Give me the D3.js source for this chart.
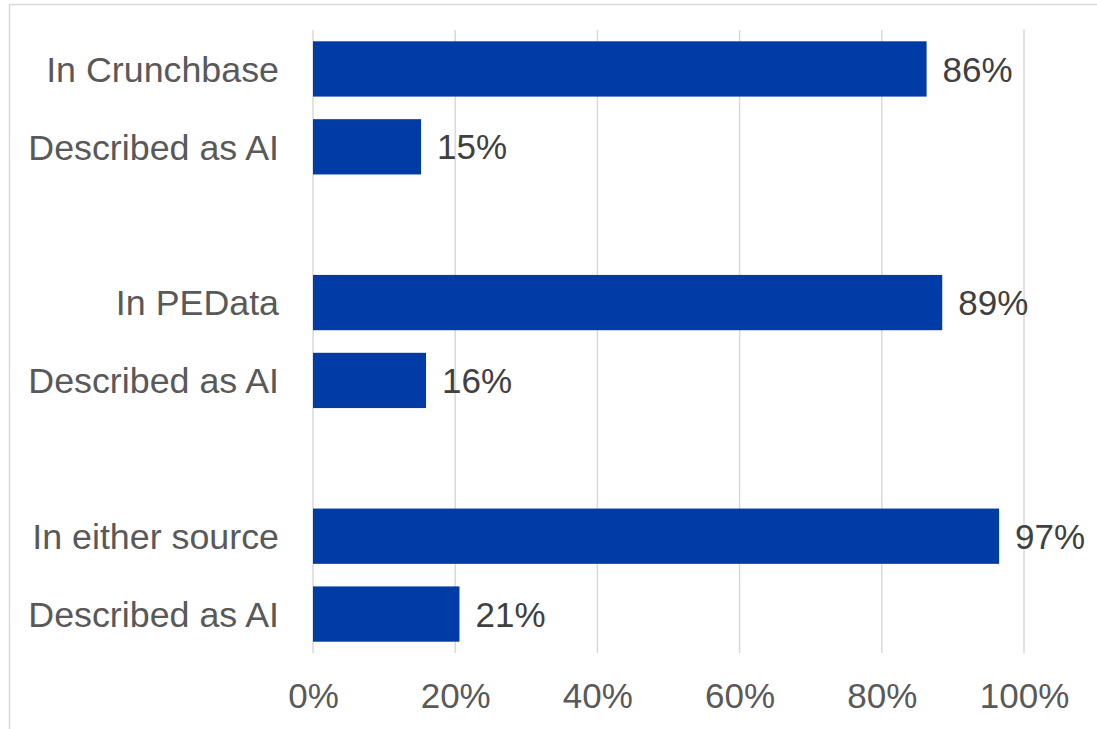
<!DOCTYPE html>
<html>
<head>
<meta charset="utf-8">
<script src="https://cdn.jsdelivr.net/npm/d3@7"></script>
<style>
html, body { margin: 0; padding: 0; background: #fff; }
svg { display: block; }
text { font-family: "Liberation Sans", Arial, sans-serif; }
</style>
</head>
<body>
<svg id="chart" width="1097" height="729"></svg>
<script>
// Data
const categories = ["In Crunchbase", "Described as AI", "", "In PEData", "Described as AI ", " ", "In either source", "Described as AI  "];
const labels = ["In Crunchbase", "Described as AI", "", "In PEData", "Described as AI", "", "In either source", "Described as AI"];
const values = [0.863, 0.152, null, 0.885, 0.159, null, 0.965, 0.206];
const valueLabels = ["86%", "15%", "", "89%", "16%", "", "97%", "21%"];
const ticks = [0, 0.2, 0.4, 0.6, 0.8, 1.0];
const tickLabels = ["0%", "20%", "40%", "60%", "80%", "100%"];

const svg = d3.select("#chart");

// outer border (clipped at right/bottom like the reference)
svg.append("rect")
  .attr("x", 9.5).attr("y", 4.5)
  .attr("width", 1200).attr("height", 800)
  .attr("fill", "none").attr("stroke", "#d9d9d9").attr("stroke-width", 1.5);

const x = d3.scaleLinear().domain([0, 1]).range([313, 1024]);
const y = d3.scaleBand().domain(categories).range([30, 653]).paddingInner(0.29).paddingOuter(0.145);

// gridlines
svg.append("g").selectAll("line").data(ticks).join("line")
  .attr("x1", d => x(d)).attr("x2", d => x(d))
  .attr("y1", 30).attr("y2", 653)
  .attr("stroke", "#d9d9d9").attr("stroke-width", 1.5);

// bars
const rows = categories.map((c, i) => ({c, v: values[i], lab: labels[i], vl: valueLabels[i]}));
svg.append("g").selectAll("rect").data(rows.filter(d => d.v != null)).join("rect")
  .attr("x", x(0))
  .attr("y", d => y(d.c))
  .attr("width", d => x(d.v) - x(0))
  .attr("height", y.bandwidth())
  .attr("fill", "#003BA6");

// category labels
svg.append("g").selectAll("text").data(rows.filter(d => d.lab)).join("text")
  .attr("x", 279)
  .attr("y", d => y(d.c) + y.bandwidth() / 2)
  .attr("dy", "0.36em")
  .attr("text-anchor", "end")
  .attr("font-size", 35.8)
  .attr("fill", "#595959")
  .text(d => d.lab);

// value labels
svg.append("g").selectAll("text").data(rows.filter(d => d.v != null)).join("text")
  .attr("x", d => x(d.v) + 16)
  .attr("y", d => y(d.c) + y.bandwidth() / 2)
  .attr("dy", "0.36em")
  .attr("font-size", 35)
  .attr("fill", "#404040")
  .text(d => d.vl);

// x-axis tick labels
const xAxis = d3.axisBottom(x).tickValues(ticks).tickFormat((d, i) => tickLabels[i]).tickSize(0).tickPadding(0);
const ax = svg.append("g").attr("transform", "translate(0,683)").call(xAxis);
ax.select(".domain").remove();
ax.selectAll("text")
  .attr("font-size", 35)
  .attr("font-family", "Liberation Sans, Arial, sans-serif")
  .attr("fill", "#595959")
  .attr("dy", "0.72em");
</script>
</body>
</html>
